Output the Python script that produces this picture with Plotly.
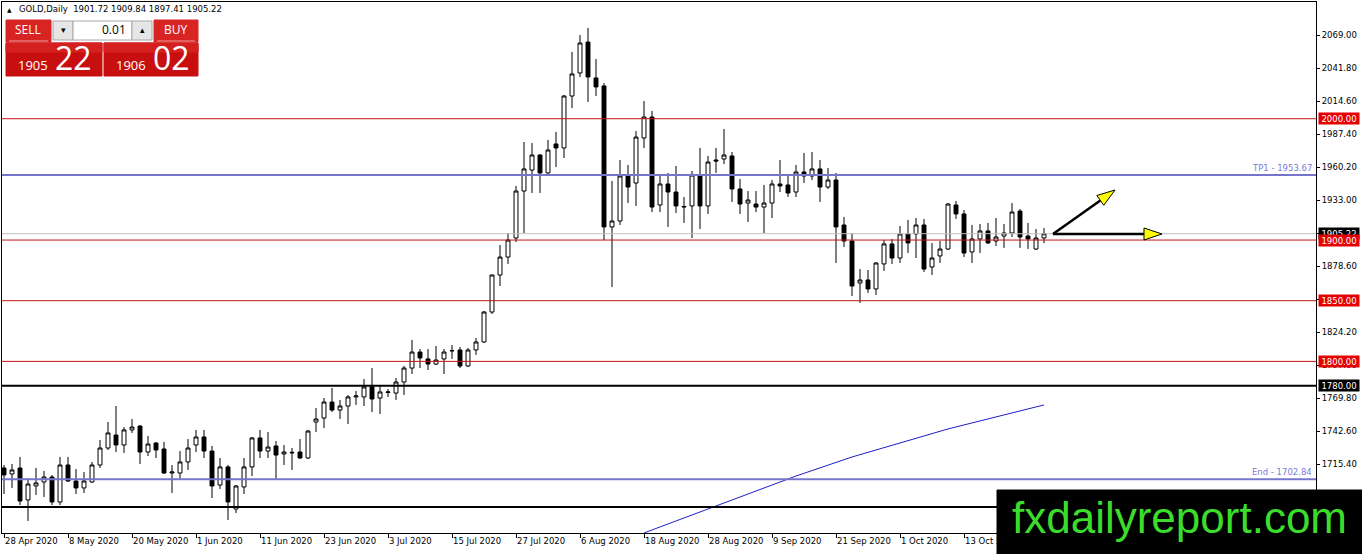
import math
import plotly.graph_objects as go

# ---- values (MT4 GOLD daily, 28 Apr - 27 Oct 2020) ----
symbol = "GOLD,Daily"
last_ohlc = [1901.72, 1909.84, 1897.41, 1905.22]
bid_big, bid_small = "22", "1905"
ask_big, ask_small = "02", "1906"
lot = "0.01"

opens = [
    1712.1, 1707.2, 1712.1, 1685.8, 1697.3, 1700.6, 1704.7, 1684.1, 1714.6, 1701.4,
    1695.7, 1700.6, 1714.6, 1728.6, 1739.3, 1731.1, 1743.5, 1746.7, 1725.3, 1732.7,
    1727.8, 1708.0, 1708.0, 1717.1, 1731.1, 1737.7, 1726.1, 1698.1, 1713.0, 1678.3,
    1696.5, 1713.0, 1736.9, 1726.1, 1730.3, 1723.7, 1724.5, 1725.3, 1720.4, 1750.0,
    1753.3, 1766.5, 1759.9, 1763.2, 1770.7, 1770.7, 1778.9, 1769.8, 1774.4, 1773.9,
    1783.0, 1794.5, 1807.7, 1802.0, 1797.8, 1802.0, 1808.6, 1809.4, 1796.2, 1809.4,
    1816.0, 1840.7, 1871.2, 1886.0, 1901.7, 1940.4, 1957.7, 1970.1, 1955.3, 1979.2,
    1975.9, 2018.7, 2037.7, 2063.2, 2033.6, 2027.0, 1910.8, 1915.7, 1952.8, 1947.0,
    1984.1, 2001.4, 1928.9, 1946.2, 1939.6, 1927.2, 1928.1, 1953.6, 1928.1, 1966.0,
    1966.8, 1969.3, 1942.1, 1930.5, 1929.7, 1927.2, 1930.5, 1946.2, 1945.4, 1939.6,
    1956.1, 1952.8, 1958.6, 1943.7, 1949.5, 1912.4, 1899.2, 1864.6, 1867.1, 1859.7,
    1880.3, 1896.8, 1885.2, 1905.0, 1905.0, 1912.4, 1877.8, 1886.9, 1892.6, 1928.9,
    1921.5, 1890.2, 1900.9, 1907.5, 1899.2, 1903.3, 1905.8, 1923.9, 1903.3, 1892.6,
    1901.72,
]
highs = [
    1714.6, 1715.4, 1721.2, 1703.9, 1712.1, 1709.7, 1706.4, 1721.2, 1721.2, 1711.3,
    1708.8, 1717.1, 1735.2, 1750.0, 1763.2, 1745.9, 1752.5, 1747.5, 1738.5, 1733.6,
    1733.6, 1714.6, 1726.1, 1736.0, 1743.5, 1743.5, 1730.3, 1720.4, 1714.6, 1698.1,
    1720.4, 1737.7, 1743.5, 1741.8, 1734.4, 1731.1, 1728.6, 1736.0, 1743.5, 1761.6,
    1769.8, 1778.1, 1768.2, 1772.3, 1775.6, 1785.5, 1794.5, 1779.7, 1777.2, 1786.3,
    1796.2, 1817.6, 1810.2, 1810.2, 1812.7, 1810.2, 1813.5, 1811.9, 1811.0, 1819.3,
    1841.5, 1871.5, 1895.9, 1905.8, 1944.6, 1980.8, 1980.0, 1970.9, 1982.5, 1989.1,
    2019.6, 2055.0, 2069.0, 2074.8, 2049.2, 2029.4, 1948.7, 1966.0, 1961.9, 1989.9,
    2014.6, 2006.4, 1952.8, 1955.3, 1961.0, 1935.5, 1956.9, 1975.9, 1969.3, 1975.9,
    1991.5, 1972.6, 1950.3, 1940.4, 1940.4, 1945.4, 1949.5, 1966.0, 1952.8, 1961.9,
    1971.8, 1972.6, 1966.0, 1959.4, 1955.3, 1919.0, 1905.8, 1876.1, 1875.3, 1881.9,
    1900.0, 1900.9, 1911.6, 1916.5, 1918.2, 1917.4, 1897.6, 1899.2, 1930.5, 1932.2,
    1924.8, 1912.4, 1913.2, 1914.1, 1918.2, 1913.2, 1930.5, 1925.6, 1914.1, 1909.1,
    1909.84,
]
lows = [
    1690.7, 1695.7, 1681.6, 1668.5, 1689.9, 1688.2, 1681.6, 1681.6, 1700.6, 1690.7,
    1691.5, 1699.8, 1712.1, 1727.0, 1725.3, 1724.5, 1741.0, 1715.4, 1722.0, 1720.4,
    1707.2, 1691.5, 1703.1, 1710.5, 1725.3, 1720.4, 1687.4, 1694.8, 1669.3, 1675.0,
    1690.7, 1705.5, 1720.4, 1720.4, 1703.1, 1714.6, 1710.5, 1719.5, 1719.5, 1741.8,
    1745.1, 1758.3, 1752.5, 1748.4, 1764.1, 1763.2, 1758.3, 1756.6, 1770.7, 1768.2,
    1772.3, 1789.6, 1794.5, 1792.9, 1797.0, 1789.6, 1802.0, 1794.5, 1795.4, 1805.3,
    1815.2, 1839.1, 1862.1, 1880.3, 1898.4, 1905.8, 1938.8, 1938.8, 1954.5, 1960.2,
    1967.6, 2008.8, 2034.4, 2013.8, 2018.7, 1900.0, 1861.3, 1912.4, 1930.5, 1928.1,
    1975.9, 1923.1, 1923.1, 1910.8, 1922.3, 1914.1, 1901.7, 1909.1, 1921.5, 1955.3,
    1962.7, 1931.4, 1921.5, 1914.9, 1923.1, 1905.8, 1918.2, 1939.6, 1935.5, 1935.5,
    1947.0, 1949.5, 1931.4, 1942.1, 1881.1, 1894.3, 1853.9, 1848.1, 1856.4, 1854.7,
    1874.5, 1880.3, 1881.1, 1889.3, 1885.2, 1873.7, 1871.2, 1881.1, 1891.8, 1917.4,
    1886.0, 1881.1, 1889.3, 1896.8, 1895.1, 1893.5, 1902.5, 1893.5, 1892.6, 1891.8,
    1897.41,
]
closes = [
    1706.4, 1710.5, 1684.9, 1698.9, 1699.8, 1704.7, 1684.1, 1714.6, 1701.4, 1695.7,
    1701.4, 1714.6, 1728.6, 1741.0, 1731.1, 1743.5, 1745.9, 1725.3, 1731.9, 1727.0,
    1708.0, 1708.8, 1717.1, 1728.6, 1737.7, 1726.1, 1697.3, 1713.0, 1684.1, 1697.3,
    1713.0, 1736.9, 1726.1, 1729.4, 1722.8, 1725.3, 1725.0, 1720.4, 1742.6, 1752.5,
    1766.5, 1759.9, 1763.2, 1770.7, 1771.5, 1778.9, 1769.0, 1774.8, 1774.8, 1783.0,
    1794.5, 1807.7, 1802.8, 1797.8, 1801.1, 1807.7, 1808.9, 1796.2, 1809.4, 1816.0,
    1840.7, 1871.2, 1886.0, 1900.0, 1940.4, 1958.6, 1970.1, 1955.3, 1974.2, 1975.9,
    2018.7, 2036.9, 2062.4, 2034.4, 2026.2, 1910.8, 1915.7, 1952.8, 1943.7, 1984.9,
    2001.4, 1927.2, 1946.2, 1939.6, 1928.1, 1927.6, 1953.6, 1928.1, 1964.3, 1965.2,
    1970.1, 1942.1, 1929.7, 1933.0, 1927.2, 1930.5, 1946.2, 1944.6, 1938.8, 1956.1,
    1952.8, 1958.6, 1943.7, 1949.5, 1910.8, 1899.2, 1862.1, 1867.1, 1859.7, 1881.1,
    1896.8, 1885.2, 1905.0, 1897.6, 1912.4, 1876.1, 1885.2, 1892.6, 1929.7, 1921.5,
    1889.3, 1900.9, 1907.5, 1897.6, 1902.5, 1905.8, 1923.1, 1902.5, 1900.9, 1901.7,
    1905.22,
]

# bar number of each date label on the time axis (the last one sits under the logo)
date_ticks = [0, 8, 16, 24, 32, 40, 48, 56, 64, 72, 80, 88, 96, 104, 112, 120, 128]
date_labels = ["28 Apr 2020", "8 May 2020", "20 May 2020", "1 Jun 2020", "11 Jun 2020",
               "23 Jun 2020", "3 Jul 2020", "15 Jul 2020", "27 Jul 2020", "6 Aug 2020",
               "18 Aug 2020", "28 Aug 2020", "9 Sep 2020", "21 Sep 2020", "1 Oct 2020",
               "13 Oct 2020", ""]
price_ticks = [2069.0, 2041.8, 2014.6, 1987.4, 1960.2, 1933.0, 1905.8, 1878.6,
               1851.4, 1824.2, 1797.0, 1769.8, 1742.6, 1715.4, 1688.2]
# ticks whose labels are hidden behind price tags / logo in the original
hidden_ticks = [1905.8, 1851.4, 1688.2]

# moving average line (only the visible part)
ma_index = [80, 87, 93, 99, 106, 112, 118, 124, 130]
ma_values = [1658.6, 1675.9, 1690.7, 1705.5, 1721.2, 1732.7, 1744.3, 1754.2, 1764.1]

red_levels = [2000.0, 1900.0, 1850.0, 1800.0]
black_levels = [1780.0, 1680.0]
tp1_level = 1953.67
end_level = 1702.84
bid_level = 1905.22

# ---- geometry --------------------------------------------------------
W, H = 1362, 554
PL, PR, PT, PB = 2, 1316, 2, 533          # plot box in pixels
X_RANGE = [-0.25, 164.0]
Y_RANGE = [1658.55, 2096.2]
FONT = "DejaVu Sans, Verdana, sans-serif"
UI_FONT = "Open Sans, Noto Sans, sans-serif"
RED = "#c80f0f"
LINE_RED = "#c41414"
LINE_BLUE = "#7575cc"


def px_x(px):
    return (px - PL) / (PR - PL)


def px_y(py):
    return (PB - py) / (PB - PT)


def dx(px):
    return X_RANGE[0] + px_x(px) * (X_RANGE[1] - X_RANGE[0])


def dy(py):
    return Y_RANGE[0] + px_y(py) * (Y_RANGE[1] - Y_RANGE[0])


fig = go.Figure()

fig.add_trace(go.Candlestick(
    x=list(range(len(opens))), open=opens, high=highs, low=lows, close=closes,
    increasing=dict(line=dict(color="black", width=1), fillcolor="white"),
    decreasing=dict(line=dict(color="black", width=1), fillcolor="black"),
    whiskerwidth=0, hoverinfo="skip", showlegend=False,
))
fig.add_trace(go.Scatter(
    x=ma_index, y=ma_values, mode="lines",
    line=dict(color="#1e1ec8", width=1), hoverinfo="skip", showlegend=False,
))


def hline(level, color, width):
    fig.add_shape(type="line", xref="paper", x0=0, x1=1, yref="y", y0=level, y1=level,
                  line=dict(color=color, width=width), layer="above")


hline(bid_level, "#c0c0c0", 1)
for lv in red_levels:
    hline(lv, LINE_RED, 1)
for lv in black_levels:
    hline(lv, "black", 2)
hline(tp1_level, LINE_BLUE, 2)
hline(end_level, LINE_BLUE, 2)


def price_label(level, bg):
    fig.add_annotation(xref="paper", x=1, xanchor="left", xshift=2, yref="y", y=level,
                       yanchor="middle", text=f"{level:.2f}", showarrow=False,
                       width=40, height=11, bgcolor=bg, borderpad=0,
                       font=dict(family=FONT, size=8.5, color="white"))


price_label(bid_level, "black")
for lv in red_levels:
    price_label(lv, "#e60000")
price_label(black_levels[0], "black")

for lv, name in [(tp1_level, "TP1"), (end_level, "End")]:
    fig.add_annotation(xref="paper", x=1, xanchor="right", xshift=-2, yref="y", y=lv,
                       yanchor="bottom", text=f"{name} - {lv:.2f}", showarrow=False,
                       font=dict(family=FONT, size=8.5, color="#7b7bd8"))


def arrow(x0, y0, x1, y1, head=18, half=6):
    length = math.hypot(x1 - x0, y1 - y0)
    ux, uy = (x1 - x0) / length, (y1 - y0) / length
    bx, by = x1 - head * ux, y1 - head * uy
    fig.add_shape(type="line", x0=dx(x0), y0=dy(y0), x1=dx(bx), y1=dy(by),
                  line=dict(color="black", width=2.5), layer="above")
    pts = [(x1, y1), (bx - half * uy, by + half * ux), (bx + half * uy, by - half * ux)]
    path = "M " + " L ".join(f"{dx(a)},{dy(b)}" for a, b in pts) + " Z"
    fig.add_shape(type="path", path=path, fillcolor="#ffff00",
                  line=dict(color="black", width=1), layer="above")


arrow(1053, 234, 1115, 190)
arrow(1053, 234, 1162, 234)


def rect(x0, y0, x1, y1, fill, edge=None):
    fig.add_shape(type="rect", xref="paper", yref="paper",
                  x0=px_x(x0), x1=px_x(x1), y0=px_y(y1), y1=px_y(y0),
                  fillcolor=fill, line=dict(color=edge or fill, width=1), layer="above")


def text(px, py, s, size, color, anchor="center", family=UI_FONT):
    fig.add_annotation(xref="paper", yref="paper", x=px_x(px), y=px_y(py), text=s,
                       showarrow=False, xanchor=anchor, yanchor="middle",
                       font=dict(family=family, size=size, color=color))


# header
text(5, 9, "▲", 6, "black", anchor="left", family=FONT)
text(17, 9, f"{symbol}  " + " ".join(f"{v:.2f}" for v in last_ohlc), 8.5, "black",
     anchor="left", family=FONT)

# one-click trading panel
rect(6, 20, 51, 42, "#d92424")
rect(154, 20, 198, 42, "#d92424")
fig.add_shape(type="line", xref="paper", yref="paper", x0=px_x(9), x1=px_x(48),
              y0=px_y(41), y1=px_y(41), line=dict(color="#f29a9a", width=1), layer="above")
fig.add_shape(type="line", xref="paper", yref="paper", x0=px_x(157), x1=px_x(195),
              y0=px_y(41), y1=px_y(41), line=dict(color="#f29a9a", width=1), layer="above")
rect(53, 21, 73, 40, "#e6e6e6", "#a8a8a8")
rect(73, 21, 132, 40, "white", "#a8a8a8")
rect(132, 21, 152, 40, "#e6e6e6", "#a8a8a8")
rect(6, 43, 102, 76, RED)
rect(104, 43, 198, 76, RED)
rect(6, 43, 102, 52, "#d52020")
rect(104, 43, 198, 52, "#d52020")

text(28, 30, "SELL", 12, "white")
text(176, 30, "BUY", 12, "white")
text(63, 30, "▾", 9, "black")
text(142, 30, "▴", 9, "black")
text(128, 30, lot, 12, "black", anchor="right")
text(50, 65, bid_small, 13, "white", anchor="right")
text(53, 58, bid_big, 32, "white", anchor="left")
text(148, 65, ask_small, 13, "white", anchor="right")
text(151, 58, ask_big, 32, "white", anchor="left")

# watermark
rect(997, 490, 1362, 554, "black")
text(1179, 517, "fxdailyreport.com", 44, "#3cdc2c", family="Liberation Sans, Arial, sans-serif")

fig.update_layout(
    width=W, height=H,
    margin=dict(l=PL, r=W - PR, t=PT, b=H - PB, autoexpand=False),
    paper_bgcolor="white", plot_bgcolor="white",
    showlegend=False,
    font=dict(family=FONT, size=8.5, color="black"),
    xaxis=dict(
        range=X_RANGE, rangeslider=dict(visible=False),
        tickmode="array", tickvals=date_ticks, ticktext=date_labels,
        ticks="outside", ticklen=4, tickcolor="black", ticklabelposition="outside right",
        showgrid=False, zeroline=False, showline=True, mirror=True,
        linecolor="black", linewidth=1, tickfont=dict(size=8.5),
    ),
    yaxis=dict(
        range=Y_RANGE, side="right",
        tickmode="array", tickvals=price_ticks,
        ticktext=["" if v in hidden_ticks else f"{v:.2f}" for v in price_ticks],
        ticks="outside", ticklen=3, tickcolor="black",
        showgrid=False, zeroline=False, showline=True, mirror=True,
        linecolor="black", linewidth=1, tickfont=dict(size=8.5),
    ),
)

fig.write_html("out.html", config={"displayModeBar": False},
               post_script="document.body.style.margin='0';")
